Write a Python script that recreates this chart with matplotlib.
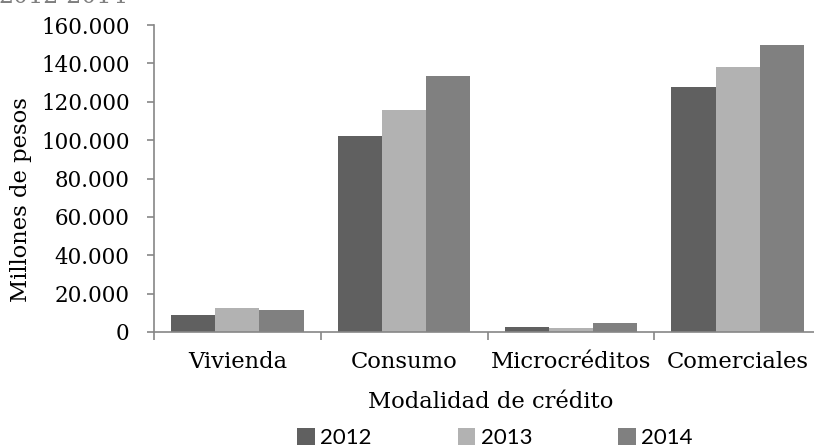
import matplotlib.pyplot as plt
import numpy as np

categorias = ['Vivienda', 'Consumo', 'Microcréditos', 'Comerciales']
anios = ['2012', '2013', '2014']
v2012 = [8700, 102000, 2400, 127800]
v2013 = [12700, 115600, 2100, 138200]
v2014 = [11700, 133300, 4500, 149700]
colores = ['#606060', '#b2b2b2', '#808080']

fig = plt.figure(figsize=(8.14, 4.47), dpi=100)
ax = fig.add_axes([154 / 814, 115 / 447, 667 / 814, 307 / 447])

x = np.arange(len(categorias))
w = 0.265
for i, (serie, col) in enumerate(zip([v2012, v2013, v2014], colores)):
    ax.bar(x + (i - 1) * w, serie, width=w, color=col, label=anios[i])

ax.set_xlim(-0.5, 3.5)
ax.set_ylim(0, 160000)

gris = '#868686'
for s in ['top', 'right']:
    ax.spines[s].set_visible(False)
for s in ['left', 'bottom']:
    ax.spines[s].set_color(gris)
    ax.spines[s].set_linewidth(1.2)

serif = 'DejaVu Serif'
yt = np.arange(0, 160001, 20000)
ax.set_yticks(yt)
ax.set_yticklabels([f'{v:,}'.replace(',', '.') for v in yt], family=serif, fontsize=15.5)
ax.tick_params(axis='y', direction='out', length=5, color=gris, width=1.2, pad=12.5)

ax.set_xticks(np.arange(-0.5, 3.6, 1))
ax.set_xticklabels([])
ax.tick_params(axis='x', which='major', direction='out', length=6, color=gris, width=1.2)
ax.set_xticks(x, minor=True)
ax.set_xticklabels(categorias, minor=True, family=serif, fontsize=16.3)
ax.tick_params(axis='x', which='minor', length=0, pad=14)

ax.set_xlabel('Modalidad de crédito', family=serif, fontsize=16.3, va='center')
ax.xaxis.set_label_coords(0.505, -0.228)
ax.set_ylabel('Millones de pesos', family=serif, fontsize=16.3)
ax.yaxis.set_label_coords(-0.183, 0.433)

# titulo recortado en la parte superior, como en el original
fig.text(127 / 814, 1 - 3 / 447, '2012-2014', ha='right', va='baseline', color='#7f7f7f',
         family=serif, fontsize=17)

fig.legend(loc='center left', bbox_to_anchor=(286 / 814, 9 / 447), ncol=3,
           frameon=False, prop={'family': 'Lato', 'size': 16}, borderpad=0,
           handlelength=0.8, handleheight=0.8, handletextpad=0.25, columnspacing=3.85)

fig.savefig('out.png', dpi=100)
